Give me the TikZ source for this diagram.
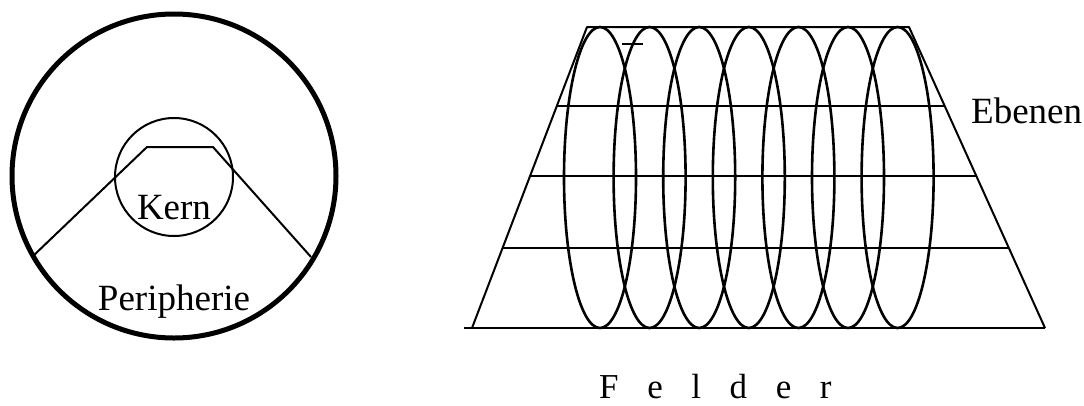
\documentclass[tikz,border=0pt]{standalone}
\usepackage{fontspec}
\setmainfont{Liberation Serif}
\usetikzlibrary{calc}
\begin{document}
\begin{tikzpicture}[x=1pt,y=-1pt,line join=round,
  thinline/.style={line width=2pt},
  ellline/.style={line width=2.6pt},
  ring/.style={line width=5pt},
  lbl/.style={font=\fontsize{37}{40}\selectfont,inner sep=0pt}]
\useasboundingbox (0,0) rectangle (1084,405);
% ---------- left: Kern / Peripherie ----------
\coordinate (C) at (174,176);
\coordinate (K) at (174,177);
\draw[ring] (C) circle[radius=162pt];
\draw[thinline] (K) circle[radius=59pt];
\coordinate (pl) at (32,257);
\coordinate (pa) at (147,147);
\coordinate (pb) at (213,147);
\coordinate (pr) at (311,257);
\draw[thinline] (pl) -- (pa) -- (pb) -- (pr);
\node[lbl,anchor=base] (kern) at (174,219) {Kern};
\node[lbl,anchor=base] (peri) at (174,310) {Peripherie};
% ---------- right: Felder / Ebenen ----------
\coordinate (tl) at (587,27);
\coordinate (tr) at (909,27);
\coordinate (br) at (1045,328);
\coordinate (bl) at (472,328);
\coordinate (b0) at (464,328);
\foreach \i in {0,...,6}
  \draw[ellline] (600+49.6*\i,177.5) ellipse[x radius=36pt,y radius=150.5pt];
\draw[thinline] (bl) -- (tl) -- (tr) -- (br);
\draw[thinline] (b0) -- (br);
\foreach \t in {0.7375,0.505,0.2658}
  \draw[thinline] ($(bl)!\t!(tl)$) -- ($(br)!\t!(tr)$);
\coordinate (m1) at (622,44);
\coordinate (m2) at (643,44);
\draw[thinline] (m1) -- (m2);
\node[lbl,anchor=base west] (ebenen) at (971,123) {Ebenen};
\node[font=\fontsize{35}{40}\selectfont,inner sep=0pt,anchor=base west] (felder) at (599,398)
  {F\hspace{28.6pt}e\hspace{28.6pt}l\hspace{28.6pt}d\hspace{28.6pt}e\hspace{28.6pt}r};
\end{tikzpicture}
\end{document}
